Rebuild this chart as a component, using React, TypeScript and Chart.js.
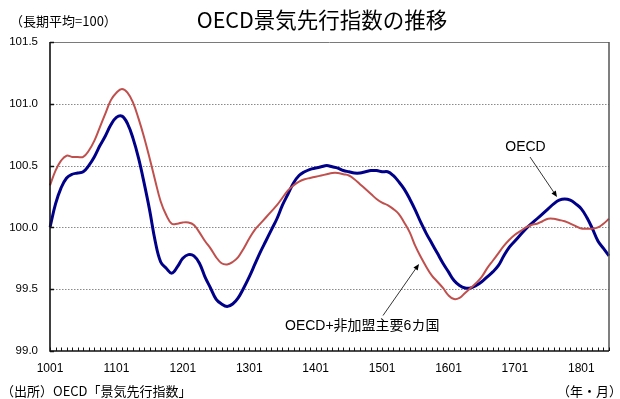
import { useEffect, useRef } from 'react';
import Chart from 'chart.js/auto';

// Category labels (YYMM), Jan 2010 .. Jun 2018
const monthLabels: string[] = (() => {
  const a: string[] = [];
  for (let y = 10; y <= 18; y++) {
    for (let m = 1; m <= 12; m++) {
      if (y === 18 && m > 6) break;
      a.push(`${y}${String(m).padStart(2, '0')}`);
    }
  }
  return a;
})();

const oecdValues: number[] = [
  100.00, 100.19, 100.32, 100.40, 100.43, 100.44, 100.45, 100.50, 100.57, 100.66,
  100.74, 100.83, 100.89, 100.90, 100.84, 100.72, 100.56, 100.36, 100.14, 99.89,
  99.72, 99.67, 99.63, 99.68, 99.75, 99.78, 99.77, 99.71, 99.60, 99.51,
  99.42, 99.38, 99.36, 99.38, 99.43, 99.51, 99.60, 99.70, 99.80, 99.89,
  99.98, 100.07, 100.18, 100.27, 100.36, 100.42, 100.45, 100.47, 100.48, 100.49,
  100.50, 100.49, 100.48, 100.46, 100.45, 100.44, 100.44, 100.45, 100.46, 100.46,
  100.45, 100.45, 100.42, 100.37, 100.31, 100.23, 100.14, 100.04, 99.95, 99.87,
  99.79, 99.71, 99.64, 99.57, 99.53, 99.51, 99.51, 99.53, 99.56, 99.60,
  99.64, 99.69, 99.77, 99.84, 99.89, 99.94, 99.99, 100.03, 100.07, 100.11,
  100.15, 100.19, 100.22, 100.23, 100.22, 100.19, 100.15, 100.08, 99.99, 99.89,
  99.83, 99.77,
];

const oecdPlus6Values: number[] = [
  100.34, 100.46, 100.54, 100.58, 100.57, 100.57, 100.57, 100.62, 100.70, 100.81,
  100.92, 101.03, 101.09, 101.12, 101.09, 101.01, 100.88, 100.73, 100.56, 100.38,
  100.21, 100.10, 100.03, 100.03, 100.04, 100.04, 100.02, 99.96, 99.89, 99.83,
  99.76, 99.71, 99.70, 99.72, 99.76, 99.83, 99.91, 99.98, 100.03, 100.08,
  100.13, 100.18, 100.24, 100.30, 100.34, 100.37, 100.39, 100.40, 100.41, 100.42,
  100.43, 100.44, 100.44, 100.43, 100.42, 100.39, 100.35, 100.31, 100.27, 100.23,
  100.20, 100.18, 100.15, 100.11, 100.04, 99.96, 99.85, 99.76, 99.68, 99.61,
  99.56, 99.51, 99.45, 99.42, 99.43, 99.47, 99.51, 99.55, 99.60, 99.67,
  99.73, 99.79, 99.85, 99.90, 99.94, 99.97, 100.00, 100.02, 100.03, 100.05,
  100.07, 100.07, 100.06, 100.05, 100.03, 100.01, 99.99, 99.99, 99.99, 100.00,
  100.03, 100.07,
];

const yTickValues: number[] = [99.0, 99.5, 100.0, 100.5, 101.0, 101.5];
const gridValues: number[] = [99.5, 100.0, 100.5, 101.0];

const seriesNames: string[] = ['OECD', 'OECD+非加盟主要6カ国'];
const titleText = 'OECD景気先行指数の推移';
const unitText = '（長期平均=100）';
const sourceText = '（出所）OECD「景気先行指数」';
const axisUnitText = '（年・月）';

const LATIN = '"Liberation Sans", "Noto Sans CJK JP", sans-serif';
const CJK = '"Noto Sans CJK JP", "Liberation Sans", sans-serif';

function drawArrow(ctx: CanvasRenderingContext2D, x1: number, y1: number, x2: number, y2: number) {
  const ang = Math.atan2(y2 - y1, x2 - x1);
  const len = 6;
  const w = 2.6;
  const bx = x2 - len * Math.cos(ang);
  const by = y2 - len * Math.sin(ang);
  ctx.beginPath();
  ctx.moveTo(x1, y1);
  ctx.lineTo(bx, by);
  ctx.strokeStyle = '#000';
  ctx.lineWidth = 0.8;
  ctx.stroke();
  ctx.beginPath();
  ctx.moveTo(x2, y2);
  ctx.lineTo(bx + w * Math.sin(ang), by - w * Math.cos(ang));
  ctx.lineTo(bx - w * Math.sin(ang), by + w * Math.cos(ang));
  ctx.closePath();
  ctx.fillStyle = '#000';
  ctx.fill();
}

const decorPlugin = {
  id: 'decor',
  beforeDatasetsDraw(chart: any) {
    const { ctx, chartArea: a, scales } = chart;
    const y = scales.y;
    ctx.save();
    ctx.strokeStyle = '#8a8a8a';
    ctx.lineWidth = 1;
    ctx.setLineDash([1.5, 1.5]);
    for (const v of gridValues) {
      const py = Math.round(y.getPixelForValue(v)) + 0.5;
      ctx.beginPath();
      ctx.moveTo(a.left, py);
      ctx.lineTo(a.right, py);
      ctx.stroke();
    }
    ctx.restore();
  },
  afterDatasetsDraw(chart: any) {
    const { ctx, chartArea: a, scales } = chart;
    const x = scales.x;
    const y = scales.y;
    ctx.save();
    ctx.strokeStyle = '#7a7a7a';
    ctx.lineWidth = 1;
    ctx.beginPath();
    ctx.moveTo(a.left, Math.round(a.top) + 0.5);
    ctx.lineTo(a.right, Math.round(a.top) + 0.5);
    ctx.stroke();
    ctx.strokeStyle = '#555';
    ctx.lineWidth = 1.5;
    ctx.beginPath();
    ctx.moveTo(a.right, a.top);
    ctx.lineTo(a.right, a.bottom);
    ctx.stroke();
    ctx.strokeStyle = '#111';
    ctx.lineWidth = 1.6;
    ctx.beginPath();
    ctx.moveTo(a.left, a.top);
    ctx.lineTo(a.left, a.bottom);
    ctx.lineTo(a.right, a.bottom);
    ctx.stroke();
    ctx.lineWidth = 1.5;
    for (const v of yTickValues) {
      const py = Math.round(y.getPixelForValue(v)) + 0.5;
      ctx.beginPath();
      ctx.moveTo(a.left, py);
      ctx.lineTo(a.left + 4, py);
      ctx.stroke();
    }
    ctx.lineWidth = 1;
    for (let i = 0; i < monthLabels.length; i++) {
      const px = Math.round(x.getPixelForValue(i)) + 0.5;
      ctx.beginPath();
      ctx.moveTo(px, a.bottom);
      ctx.lineTo(px, a.bottom - 3.5);
      ctx.stroke();
    }
    ctx.restore();
  },
  afterDraw(chart: any) {
    const { ctx } = chart;
    ctx.save();
    ctx.fillStyle = '#000';
    ctx.textBaseline = 'middle';
    ctx.font = `21.5px ${CJK}`;
    ctx.textAlign = 'center';
    ctx.fillText(titleText, 322, 20);
    ctx.font = `13px ${CJK}`;
    ctx.textAlign = 'left';
    ctx.fillText(unitText, 10, 21);
    ctx.fillText(sourceText, 1, 391);
    ctx.textAlign = 'right';
    ctx.fillText(axisUnitText, 622, 391);
    ctx.font = `14px ${LATIN}`;
    ctx.textAlign = 'center';
    ctx.fillText(seriesNames[0], 525.5, 147);
    ctx.textAlign = 'left';
    ctx.fillText(seriesNames[1], 285, 326);
    drawArrow(ctx, 530, 157, 557, 197);
    drawArrow(ctx, 383, 315.5, 419, 264);
    ctx.restore();
  },
};

export default function App() {
  const canvasRef = useRef<HTMLCanvasElement | null>(null);

  useEffect(() => {
    if (!canvasRef.current) return;
    const chart = new Chart(canvasRef.current, {
      type: 'line',
      data: {
        labels: monthLabels,
        datasets: [
          {
            label: seriesNames[1],
            data: oecdPlus6Values,
            borderColor: '#C0504D',
            borderWidth: 2,
            pointRadius: 0,
            tension: 0.4,
            fill: false,
          },
          {
            label: seriesNames[0],
            data: oecdValues,
            borderColor: '#000088',
            borderWidth: 3,
            pointRadius: 0,
            tension: 0.4,
            fill: false,
          },
        ],
      },
      options: {
        animation: false,
        responsive: false,
        maintainAspectRatio: false,
        layout: { padding: { left: 0, right: 11, top: 42, bottom: 0 } },
        plugins: {
          legend: { display: false },
          title: { display: false },
          tooltip: { enabled: false },
        },
        scales: {
          x: {
            type: 'category',
            offset: false,
            grid: { display: false, drawTicks: false },
            border: { display: false },
            ticks: {
              autoSkip: false,
              maxRotation: 0,
              minRotation: 0,
              padding: 10,
              color: '#000',
              font: { family: LATIN, size: 12 },
              callback: (_v: any, i: number) => (monthLabels[i].endsWith('01') ? monthLabels[i] : ''),
            },
            afterFit: (s: any) => {
              s.height = 48;
            },
          },
          y: {
            min: 99,
            max: 101.5,
            grid: { display: false, drawTicks: false },
            border: { display: false },
            ticks: {
              stepSize: 0.5,
              padding: 12,
              color: '#000',
              font: { family: LATIN, size: 11.5 },
              callback: (v: any) => Number(v).toFixed(1),
            },
            afterFit: (s: any) => {
              s.width = 50;
            },
          },
        },
      },
      plugins: [decorPlugin],
    });
    return () => chart.destroy();
  }, []);

  return (
    <div style={{ position: 'absolute', left: 0, top: 0, width: 620, height: 399, background: '#fff' }}>
      <canvas ref={canvasRef} width={620} height={399} />
    </div>
  );
}
